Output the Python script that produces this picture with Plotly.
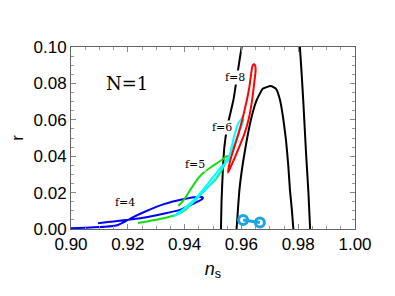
import plotly.graph_objects as go

# ---------------- data ----------------
# Planck-like contours (black)
outer_ns = [0.9528, 0.9530, 0.9534, 0.9540, 0.9550, 0.9572, 0.9601, 0.9625, 0.9660, 0.9710, 0.9760, 0.9795, 0.9806, 0.9818, 0.9827, 0.9836, 0.9842]
outer_r  = [0.0000, 0.0150, 0.0300, 0.0450, 0.0560, 0.0710, 0.1000, 0.1150, 0.1250, 0.1280, 0.1250, 0.1150, 0.1000, 0.0700, 0.0434, 0.0200, 0.0000]

inner_ns = [0.9583, 0.9593, 0.9605, 0.9619, 0.9635, 0.9654, 0.9675, 0.9703, 0.9722, 0.9736, 0.9747, 0.9757, 0.9765, 0.9771, 0.9778, 0.9783]
inner_r  = [0.0000, 0.0214, 0.0360, 0.0489, 0.0610, 0.0709, 0.0770, 0.0786, 0.0770, 0.0709, 0.0610, 0.0489, 0.0350, 0.0214, 0.0100, 0.0000]

# f = 4 (blue)
f4_ns = [0.8960, 0.9000, 0.9050, 0.9120, 0.9165, 0.9190, 0.9215, 0.9260, 0.9330, 0.9390, 0.9435, 0.9455, 0.9465, 0.9460, 0.9430, 0.9384, 0.9330, 0.9270, 0.9215, 0.9170, 0.9130, 0.9095]
f4_r  = [0.0002, 0.0004, 0.0007, 0.0012, 0.0022, 0.0040, 0.0062, 0.0095, 0.0138, 0.0162, 0.0175, 0.0177, 0.0172, 0.0162, 0.0138, 0.0105, 0.0085, 0.0066, 0.0053, 0.0045, 0.0038, 0.0031]

# f = 5 (green)
f5_ns = [0.9236, 0.9290, 0.9340, 0.9375, 0.9401, 0.9430, 0.9460, 0.9485, 0.9507, 0.9530, 0.9548, 0.9555, 0.9548, 0.9531, 0.9510, 0.9495, 0.9470, 0.9448, 0.9420, 0.9395, 0.9378]
f5_r  = [0.0033, 0.0048, 0.0065, 0.0082, 0.0104, 0.0145, 0.0196, 0.0235, 0.0269, 0.0320, 0.0379, 0.0398, 0.0400, 0.0379, 0.0358, 0.0342, 0.0315, 0.0279, 0.0215, 0.0155, 0.0128]

# f = 6 (cyan)
f6_ns = [0.9360, 0.9390, 0.9425, 0.9460, 0.9495, 0.9525, 0.9548, 0.9565, 0.9577, 0.9595, 0.9607, 0.9603, 0.9589, 0.9571, 0.9554, 0.9525, 0.9500, 0.9475, 0.9440, 0.9400, 0.9360]
f6_r  = [0.0068, 0.0095, 0.0141, 0.0195, 0.0251, 0.0315, 0.0379, 0.0425, 0.0471, 0.0545, 0.0599, 0.0610, 0.0581, 0.0489, 0.0379, 0.0333, 0.0285, 0.0235, 0.0170, 0.0115, 0.0068]

# f = 8 (red)
f8_ns = [0.9553, 0.9562, 0.9575, 0.9592, 0.9610, 0.9625, 0.9637, 0.9645, 0.9650, 0.9648, 0.9643, 0.9638, 0.9634, 0.9628, 0.9618, 0.9603, 0.9589, 0.9575, 0.9563, 0.9556, 0.9553]
f8_r  = [0.0310, 0.0340, 0.0385, 0.0450, 0.0520, 0.0600, 0.0700, 0.0800, 0.0870, 0.0900, 0.0905, 0.0890, 0.0850, 0.0780, 0.0700, 0.0600, 0.0520, 0.0450, 0.0390, 0.0345, 0.0310]

# small sky-blue feature near the bottom
small_ns = [0.9606, 0.9665]
small_r  = [0.0049, 0.0036]

# labels
label_text = ["N=1", "f=8", "f=6", "f=5", "f=4"]
label_ns   = [0.9197, 0.9578, 0.9530, 0.9435, 0.9190]
label_r    = [0.0802, 0.0835, 0.0555, 0.0352, 0.0148]
label_size = [18, 11, 11, 11, 11]

x_ticks = [0.90, 0.92, 0.94, 0.96, 0.98, 1.00]
y_ticks = [0.00, 0.02, 0.04, 0.06, 0.08, 0.10]

# ---------------- figure ----------------
fig = go.Figure()

def add_line(xs, ys, color, width=2):
    fig.add_trace(go.Scatter(x=xs, y=ys, mode="lines",
                             line=dict(color=color, width=width, shape="spline", smoothing=0.4),
                             showlegend=False, hoverinfo="skip"))

add_line(outer_ns, outer_r, "black")
add_line(inner_ns, inner_r, "black")
add_line(f4_ns, f4_r, "#0000ff")
add_line(f5_ns, f5_r, "#11dd11")
add_line(f6_ns, f6_r, "#00ffff")
add_line(f8_ns, f8_r, "#ff0000")

fig.add_trace(go.Scatter(x=small_ns, y=small_r, mode="lines+markers",
                         line=dict(color="#1aa4e0", width=3),
                         marker=dict(symbol="circle-open", size=9, color="#1aa4e0",
                                     line=dict(width=3, color="#1aa4e0")),
                         showlegend=False, hoverinfo="skip"))

for t, x, y, s in zip(label_text, label_ns, label_r, label_size):
    fig.add_annotation(x=x, y=y, text=t, showarrow=False, bgcolor="white", borderpad=0,
                       font=dict(family="DejaVu Serif", size=s, color="black"))

axis_common = dict(
    showline=True, linecolor="#666666", linewidth=1, mirror="ticks",
    ticks="inside", ticklen=5, tickcolor="#888888", tickwidth=1,
    showgrid=False, zeroline=False, automargin=False,
    tickfont=dict(family="Liberation Sans", size=17, color="black"),
)

fig.update_xaxes(range=[0.90, 1.00], tickvals=x_ticks,
                 ticktext=[f"{v:.2f}" for v in x_ticks],
                 minor=dict(dtick=0.005, tick0=0.9, ticks="inside", ticklen=3, tickcolor="#999999"),
                 title=dict(text="<i>n</i><sub>s</sub>",
                            font=dict(family="Liberation Sans", size=18, color="black"), standoff=8),
                 **axis_common)
fig.update_yaxes(range=[0.00, 0.10], tickvals=y_ticks,
                 ticktext=[f"{v:.2f}" for v in y_ticks],
                 minor=dict(dtick=0.005, tick0=0.0, ticks="inside", ticklen=3, tickcolor="#999999"),
                 title=dict(text="r", font=dict(family="Liberation Sans", size=17, color="black"), standoff=14),
                 **axis_common)

# page body adds an 8px offset, so margins compensate for it
fig.update_layout(width=395, height=296,
                  margin=dict(l=63, r=48, t=39, b=75),
                  paper_bgcolor="white", plot_bgcolor="white")

fig.write_html("out.html")
